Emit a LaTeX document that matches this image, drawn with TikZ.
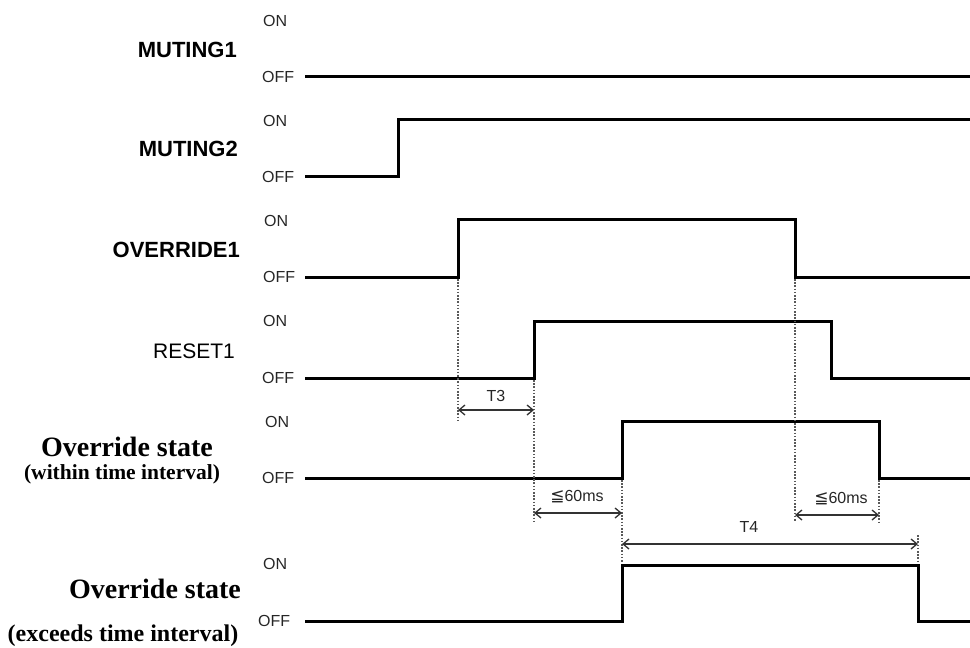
\documentclass[tikz,border=0pt]{standalone}
\usepackage{fontspec}
\setmainfont{Liberation Serif}
\setsansfont{Liberation Sans}
\newfontfamily\symfont{DejaVu Sans}
\usetikzlibrary{arrows.meta}

\tikzset{
  wave/.style={line width=3bp, black, line join=miter},
  guide/.style={dash pattern=on 1.6bp off 1.6bp, line width=1.6bp, black!65},
  dimarrow/.style={{Straight Barb[length=6bp,width=10bp]}-{Straight Barb[length=6bp,width=10bp]}, line width=1.3bp, black!80},
  lvl/.style={font=\sffamily\fontsize{16bp}{18bp}\selectfont, anchor=west, inner sep=0pt, text=black!85},
  signame/.style={font=\sffamily\bfseries\fontsize{22bp}{24bp}\selectfont, anchor=east, inner sep=0pt},
  statename/.style={font=\rmfamily\bfseries\fontsize{28bp}{30bp}\selectfont, inner sep=0pt},
  statenote/.style={font=\rmfamily\bfseries\fontsize{21.5bp}{23bp}\selectfont, inner sep=0pt},
  dimlabel/.style={font=\sffamily\fontsize{16bp}{18bp}\selectfont, inner sep=0pt, text=black!85}
}

\begin{document}
\begin{tikzpicture}[x=1bp, y=-1bp]
% --- frame of the picture
\useasboundingbox (0,0) rectangle (970,648);

% ---- MUTING1
\node[signame] (mute1) at (237,50) {MUTING1};
\node[lvl] (mute1on) at (263,21) {ON};
\node[lvl] (mute1off) at (262,77) {OFF};
\draw[wave] (305,77) -- (972,77);

% ---- MUTING2
\node[signame] (mute2) at (238,149) {MUTING2};
\node[lvl] (mute2on) at (263,121) {ON};
\node[lvl] (mute2off) at (262,177) {OFF};
\draw[wave] (305,177) -- (398,177) -- (398,120) -- (972,120);

% ---- OVERRIDE1
\node[signame] (over1) at (240,250) {OVERRIDE1};
\node[lvl] (over1on) at (264,221) {ON};
\node[lvl] (over1off) at (263,277) {OFF};
\draw[wave] (305,277) -- (458,277) -- (458,220) -- (795,220) -- (795,277) -- (972,277);

% ---- RESET1
\node[signame, font=\sffamily\fontsize{21bp}{23bp}\selectfont] (reset1) at (235,351) {RESET1};
\node[lvl] (reset1on) at (263,321) {ON};
\node[lvl] (reset1off) at (262,378) {OFF};
\draw[wave] (305,378) -- (534,378) -- (534,321) -- (831,321) -- (831,378) -- (972,378);

% ---- override state, within time interval
\node[statename] (within) at (127,447) {Override state};
\node[statenote] (withinnote) at (122,474) {(within time interval)};
\node[lvl] (withinon) at (265,422) {ON};
\node[lvl] (withinoff) at (262,478) {OFF};
\draw[wave] (305,478) -- (622,478) -- (622,421) -- (879,421) -- (879,478) -- (972,478);

% ---- override state, exceeds time interval
\node[statename] (exceeds) at (155,589) {Override state};
\node[statenote, font=\rmfamily\bfseries\fontsize{24bp}{26bp}\selectfont] (exceedsnote) at (123,636) {(exceeds time interval)};
\node[lvl] (exceedson) at (263,564) {ON};
\node[lvl] (exceedsoff) at (258,621) {OFF};
\draw[wave] (305,621) -- (622,621) -- (622,565) -- (918,565) -- (918,621) -- (972,621);

% --- dotted guide lines
\coordinate (g1a) at (458,279); \coordinate (g1b) at (458,420);
\coordinate (g2a) at (534,380); \coordinate (g2b) at (534,521);
\coordinate (g3a) at (622,480); \coordinate (g3b) at (622,563);
\coordinate (g4a) at (795,279); \coordinate (g4b) at (795,522);
\coordinate (g5a) at (879,480); \coordinate (g5b) at (879,522);
\coordinate (g6a) at (918,535); \coordinate (g6b) at (918,563);
\draw[guide] (g1a) -- (g1b);
\draw[guide] (g2a) -- (g2b);
\draw[guide] (g3a) -- (g3b);
\draw[guide] (g4a) -- (g4b);
\draw[guide] (g5a) -- (g5b);
\draw[guide] (g6a) -- (g6b);

% --- time spans
\coordinate (t3l) at (458,410); \coordinate (t3r) at (534,410);
\coordinate (w1l) at (534,513); \coordinate (w1r) at (622,513);
\coordinate (t4l) at (622,544); \coordinate (t4r) at (918,544);
\coordinate (w2l) at (795,515); \coordinate (w2r) at (879,515);
\draw[dimarrow] (t3l) -- (t3r);
\draw[dimarrow] (w1l) -- (w1r);
\draw[dimarrow] (t4l) -- (t4r);
\draw[dimarrow] (w2l) -- (w2r);

\node[dimlabel] (t3) at (496,396) {T3};
\node[dimlabel] (w1) at (577,497) {{\symfont\fontsize{17bp}{18bp}\selectfont ≦}60ms};
\node[dimlabel] (t4) at (749,527) {T4};
\node[dimlabel] (w2) at (841,499) {{\symfont\fontsize{17bp}{18bp}\selectfont ≦}60ms};
\end{tikzpicture}
\end{document}
